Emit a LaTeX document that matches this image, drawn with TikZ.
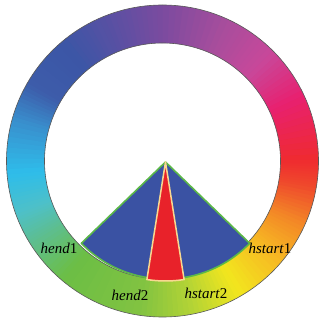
\documentclass[tikz,border=0pt]{standalone}
\usepackage{fontspec}
\setmainfont{Liberation Serif}
\definecolor{s0}{HTML}{EF2B2F}
\definecolor{s1}{HTML}{E8206F}
\definecolor{s2}{HTML}{C8489A}
\definecolor{s3}{HTML}{A84D9C}
\definecolor{s4}{HTML}{7B4B9F}
\definecolor{s5}{HTML}{5A50A3}
\definecolor{s6}{HTML}{3C56A6}
\definecolor{s7}{HTML}{3D5CAA}
\definecolor{s8}{HTML}{3990CE}
\definecolor{s9}{HTML}{2EBDEA}
\definecolor{s10}{HTML}{4EC0C8}
\definecolor{s11}{HTML}{5DBE90}
\definecolor{s12}{HTML}{6CBE45}
\definecolor{s13}{HTML}{82C341}
\definecolor{s14}{HTML}{B5D435}
\definecolor{s15}{HTML}{F2E61E}
\definecolor{s16}{HTML}{F7B823}
\definecolor{s17}{HTML}{F38A26}
\definecolor{s18}{HTML}{EF4A2C}
\definecolor{pieblue}{HTML}{3A52A3}
\definecolor{piered}{HTML}{E8222A}
\definecolor{pieedge}{HTML}{5CB848}
\definecolor{rededge}{HTML}{F8D890}
\tikzset{
  lbl/.style={font=\fontsize{15}{18}\selectfont, inner sep=0pt},
  ringline/.style={draw=black!65, line width=0.6pt}
}
\begin{document}
\begin{tikzpicture}[x=1pt,y=1pt]
\useasboundingbox (0,0) rectangle (323,324);
\coordinate (C) at (162.5,163);
\coordinate (P) at (165.5,162);
% ring gradient
\begin{scope}[shift={(C)}]
\foreach \a/\b/\ca/\cb in {0/25/s0/s1,25/45/s1/s2,45/65/s2/s3,65/90/s3/s4,90/110/s4/s5,110/130/s5/s6,130/150/s6/s7,150/165/s7/s8,165/185/s8/s9,185/200/s9/s10,200/212/s10/s11,212/230/s11/s12,230/262/s12/s13,262/282/s13/s14,282/300/s14/s15,300/320/s15/s16,320/335/s16/s17,335/350/s17/s18,350/360/s18/s0}{
  \foreach \i in {0,...,9}{
    \pgfmathsetmacro\tA{\a+(\b-\a)*\i/10}
    \pgfmathsetmacro\tB{\a+(\b-\a)*(\i+1)/10+0.4}
    \pgfmathsetmacro\pc{100-\i*10-5}
    \colorlet{segc}{\ca!\pc!\cb}
    \fill[segc] (\tA:156) arc[start angle=\tA, end angle=\tB, radius=156] -- (\tB:118) arc[start angle=\tB, end angle=\tA, radius=118] -- cycle;
  }
}
\draw[ringline] (0,0) circle[radius=156];
\draw[ringline] (0,0) circle[radius=118];
\end{scope}
% blue sector
\fill[pieblue, draw=pieedge, line width=1.6pt, line join=round] (P) -- ++(224:117) arc[start angle=224, end angle=316, radius=117] -- cycle;
% red sector
\fill[piered, draw=rededge, line width=1.5pt, line join=round] (P) -- ++(261:119) arc[start angle=261, end angle=279, radius=119] -- cycle;
% labels
\node[lbl] (he1) at (59,76) {\textit{hend}1};
\node[lbl] (hs1) at (270,76) {\textit{hstart}1};
\node[lbl] (he2) at (130,29) {\textit{hend}2};
\node[lbl] (hs2) at (206,31) {\textit{hstart}2};
\end{tikzpicture}
\end{document}
